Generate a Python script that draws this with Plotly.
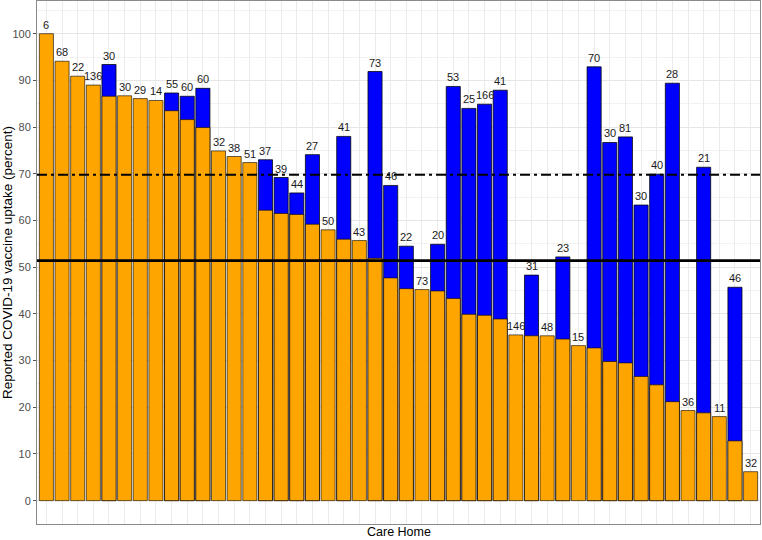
import plotly.graph_objects as go

# ---- data ----
counts = [6, 68, 22, 136, 30, 30, 29, 14, 55, 60, 60, 32, 38, 51, 37, 39, 44, 27, 50, 41,
          43, 73, 46, 22, 73, 20, 53, 25, 166, 41, 146, 31, 48, 23, 15, 70, 30, 81, 30, 40,
          28, 36, 21, 11, 46, 32]
uptake_first = [100, 94.1, 90.9, 89.0, 86.6, 86.7, 86.1, 85.7, 83.5, 81.6,
                79.9, 74.9, 73.7, 72.4, 62.2, 61.5, 61.3, 59.2, 58.0, 56.0,
                55.7, 51.9, 47.7, 45.4, 45.2, 44.9, 43.3, 39.9, 39.7, 38.9,
                35.5, 35.3, 35.3, 34.6, 33.2, 32.7, 29.8, 29.5, 26.6, 24.8,
                21.2, 19.3, 18.8, 18.0, 12.8, 6.2]
uptake_total = [None, None, None, None, 93.4, None, None, None, 87.3, 86.6,
                88.3, None, None, None, 73.0, 69.2, 65.9, 74.1, None, 78.0,
                None, 91.9, 67.5, 54.5, None, 54.9, 88.7, 84.0, 84.9, 87.9,
                None, 48.3, None, 52.2, None, 92.9, 76.7, 77.9, 63.3, 69.9,
                89.4, None, 71.4, None, 45.7, None]
ref_dashdot = 69.8
ref_solid = 51.4
y_ticks = [0, 10, 20, 30, 40, 50, 60, 70, 80, 90, 100]
x_title = "Care Home"
y_title = "Reported COVID-19 vaccine uptake (percent)"

homes = list(range(1, len(counts) + 1))
FONT = "Liberation Sans, Arial, sans-serif"

fig = go.Figure()
bx = [h for h, t in zip(homes, uptake_total) if t is not None]
by = [t for t in uptake_total if t is not None]
fig.add_trace(go.Bar(x=bx, y=by, width=0.9, marker=dict(color="#0000FF",
                     line=dict(color="rgba(0,0,0,0.75)", width=1)), hoverinfo="skip"))
fig.add_trace(go.Bar(x=homes, y=uptake_first, width=0.9, marker=dict(color="#FFA500",
                     line=dict(color="rgba(0,0,0,0.6)", width=1)), hoverinfo="skip"))

for h, c, a, t in zip(homes, counts, uptake_first, uptake_total):
    top = a if t is None else max(a, t)
    fig.add_annotation(x=h, y=top, text=str(c), showarrow=False, yanchor="bottom",
                       yshift=1, font=dict(family=FONT, size=11, color="#1a1a1a"))

fig.add_annotation(x=0.5, xref="paper", y=0, yref="paper", yanchor="top", yshift=0,
                   borderpad=0, text=x_title, showarrow=False,
                   font=dict(family=FONT, size=12.5, color="black"))

fig.add_shape(type="line", xref="paper", x0=0, x1=1, y0=ref_dashdot, y1=ref_dashdot,
              line=dict(color="black", width=2, dash="10px,4px,3px,4px"), layer="above")
fig.add_shape(type="line", xref="paper", x0=0, x1=1, y0=ref_solid, y1=ref_solid,
              line=dict(color="black", width=2.8), layer="above")

fig.update_layout(
    width=762, height=540, barmode="overlay", showlegend=False,
    paper_bgcolor="white", plot_bgcolor="white",
    margin=dict(l=37, r=2, t=1, b=16),
    font=dict(family=FONT),
    xaxis=dict(range=[0.4, len(counts) + 0.6], tickvals=homes, showticklabels=False,
               ticks="", showgrid=True, gridcolor="#ebebeb", gridwidth=1, automargin=False,
               showline=True, linecolor="#8a8a8a", mirror=True, zeroline=False),
    yaxis=dict(range=[-5, 107], tickvals=y_ticks, ticks="outside", ticklen=3, automargin=False,
               tickcolor="#555", tickfont=dict(size=11, color="#4d4d4d"),
               showgrid=True, gridcolor="#e6e6e6", gridwidth=1,
               minor=dict(dtick=5, tick0=0, showgrid=True, gridcolor="#f2f2f2", gridwidth=0.6),
               showline=True, linecolor="#8a8a8a", mirror=True, zeroline=False,
               title=dict(text=y_title, font=dict(size=13.5, color="black"), standoff=4)),
)

fig.write_html("out.html", config={"displayModeBar": False},
               post_script="document.body.style.margin='0';document.body.style.overflow='hidden';")
